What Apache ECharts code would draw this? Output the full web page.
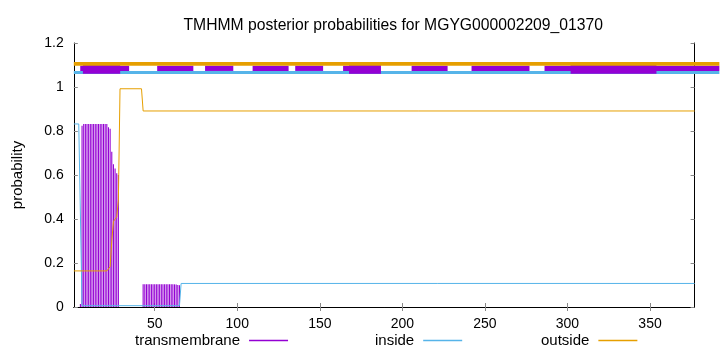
<!DOCTYPE html>
<html>
<head>
<meta charset="utf-8">
<script src="https://cdn.jsdelivr.net/npm/echarts@6/dist/echarts.min.js"></script>
<style>
html,body{margin:0;padding:0;background:#fff;}
#chart{width:720px;height:352px;}
</style>
</head>
<body>
<div id="chart"></div>
<script>
// ---- data ----
const titleText = 'TMHMM posterior probabilities for MGYG000002209_01370';
const xMin = 1, xMax = 377;
const xTickValues = [50, 100, 150, 200, 250, 300, 350];
const yMin = 0, yMax = 1.2, yStep = 0.2;

// transmembrane posterior (impulses) : [residue, probability]
const transmembrane = [
  [5, 0.014], [6, 0.824], [7, 0.832], [8, 0.832], [9, 0.832], [10, 0.832],
  [11, 0.832], [12, 0.832], [13, 0.832], [14, 0.832], [15, 0.832], [16, 0.832],
  [17, 0.832], [18, 0.832], [19, 0.832], [20, 0.832], [21, 0.832], [22, 0.817],
  [23, 0.81], [24, 0.706], [25, 0.649], [26, 0.63], [27, 0.608], [28, 0.60],
  [43, 0.103], [44, 0.103], [45, 0.103], [46, 0.103], [47, 0.103], [48, 0.103],
  [49, 0.103], [50, 0.103], [51, 0.103], [52, 0.103], [53, 0.103], [54, 0.103],
  [55, 0.103], [56, 0.103], [57, 0.103], [58, 0.103], [59, 0.103], [60, 0.103],
  [61, 0.103], [62, 0.103], [63, 0.102], [64, 0.1], [65, 0.099]
];
// inside posterior (breakpoints)
const inside = [
  [1, 0.832], [4, 0.832], [5, 0.824], [6, 0.006], [65, 0.006], [66, 0.107], [377, 0.107]
];
// outside posterior (breakpoints)
const outside = [
  [1, 0.164], [21, 0.164], [22, 0.17], [23, 0.183], [24, 0.3], [25, 0.388],
  [26, 0.40], [27, 0.41], [28, 0.486], [29, 0.992], [42, 0.992], [43, 0.891], [377, 0.891]
];
// predicted topology bands at the top: [start, end]
const outsideBand = [[1, 392]];
const insideBand = [[1, 392]];
const tmBandThin = [[4.9, 34.5], [51.5, 73.4], [80.5, 97.6], [109.3, 131.1], [135.1, 152.0],
  [164.1, 186.9], [205.6, 227.4], [241.9, 277.0], [286.1, 392]];
const tmBandThick = [[6.5, 29.1], [167.7, 187], [301.9, 353.9]];
const bandLevel = { outside: 1.105, tm: 1.085, inside: 1.066 };

// ---- chart ----
const FONT = 'Liberation Sans';
const C_TM = '#9400d3', C_IN = '#56b4e9', C_OUT = '#e69f00';

function bandSeries(name, segs, level, color, width, z) {
  return {
    type: 'custom', name: name, clip: false, z: z, silent: true,
    data: segs.map(s => [s[0], s[1], level]),
    encode: { x: [0, 1], y: 2 },
    renderItem: function (params, api) {
      const a = api.coord([api.value(0), api.value(2)]);
      const b = api.coord([api.value(1), api.value(2)]);
      return { type: 'line', shape: { x1: a[0], y1: a[1], x2: b[0], y2: b[1] },
        style: { stroke: color, lineWidth: width, lineCap: 'butt' } };
    }
  };
}

const chart = echarts.init(document.getElementById('chart'), null, { renderer: 'canvas' });
const tickStyle = { show: true, inside: true, length: 4, lineStyle: { color: '#888' } };
const axisLineStyle = { show: true, lineStyle: { color: '#000', width: 1 } };
const legendCommon = {
  top: 328, align: 'right', icon: 'rect', itemWidth: 39, itemHeight: 1.5,
  textStyle: { fontFamily: FONT, fontSize: 15, color: '#000', padding: [0, 4, 0, 0] },
  selectedMode: false
};
chart.setOption({
  animation: false,
  backgroundColor: '#fff',
  title: {
    text: titleText, left: 178.5, top: 13,
    textStyle: { fontFamily: FONT, fontSize: 15.7, fontWeight: 'normal', color: '#000' }
  },
  grid: { left: 73.8, right: 25.4, top: 43, bottom: 45 },
  legend: [
    Object.assign({ data: ['transmembrane'], left: 130 }, legendCommon),
    Object.assign({ data: ['inside'], left: 370 }, legendCommon),
    Object.assign({ data: ['outside'], left: 536 }, legendCommon)
  ],
  xAxis: [
    {
      type: 'value', min: xMin, max: xMax, position: 'bottom',
      axisLine: axisLineStyle, splitLine: { show: false },
      axisTick: Object.assign({ customValues: xTickValues }, tickStyle),
      axisLabel: { customValues: xTickValues, fontFamily: FONT, fontSize: 14, color: '#000', margin: 10 }
    },
    {
      type: 'value', min: xMin, max: xMax, position: 'top',
      axisLine: axisLineStyle, splitLine: { show: false },
      axisTick: Object.assign({ customValues: xTickValues }, tickStyle),
      axisLabel: { show: false }
    }
  ],
  yAxis: [
    {
      type: 'value', min: yMin, max: yMax, interval: yStep, position: 'left',
      name: 'probability', nameLocation: 'middle', nameGap: 48,
      nameTextStyle: { fontFamily: FONT, fontSize: 15, color: '#000' },
      axisLine: axisLineStyle, splitLine: { show: false }, axisTick: tickStyle,
      axisLabel: { fontFamily: FONT, fontSize: 14, color: '#000', margin: 10 }
    },
    {
      type: 'value', min: yMin, max: yMax, interval: yStep, position: 'right',
      axisLine: axisLineStyle, splitLine: { show: false }, axisTick: tickStyle,
      axisLabel: { show: false }
    }
  ],
  series: [
    {
      type: 'bar', name: 'transmembrane', data: transmembrane, barWidth: 1.1,
      itemStyle: { color: C_TM }, z: 2, silent: true
    },
    {
      type: 'line', name: 'inside', data: inside, symbol: 'none', z: 3, silent: true,
      lineStyle: { color: C_IN, width: 1 }, itemStyle: { color: C_IN }
    },
    {
      type: 'line', name: 'outside', data: outside, symbol: 'none', z: 4, silent: true,
      lineStyle: { color: C_OUT, width: 1 }, itemStyle: { color: C_OUT }
    },
    bandSeries('insideBand', insideBand, bandLevel.inside, C_IN, 3, 5),
    bandSeries('tmBandThin', tmBandThin, bandLevel.tm, C_TM, 5.3, 6),
    bandSeries('tmBandThick', tmBandThick, bandLevel.tm, C_TM, 11, 7),
    bandSeries('outsideBand', outsideBand, bandLevel.outside, C_OUT, 3.7, 8)
  ]
});
</script>
</body>
</html>
